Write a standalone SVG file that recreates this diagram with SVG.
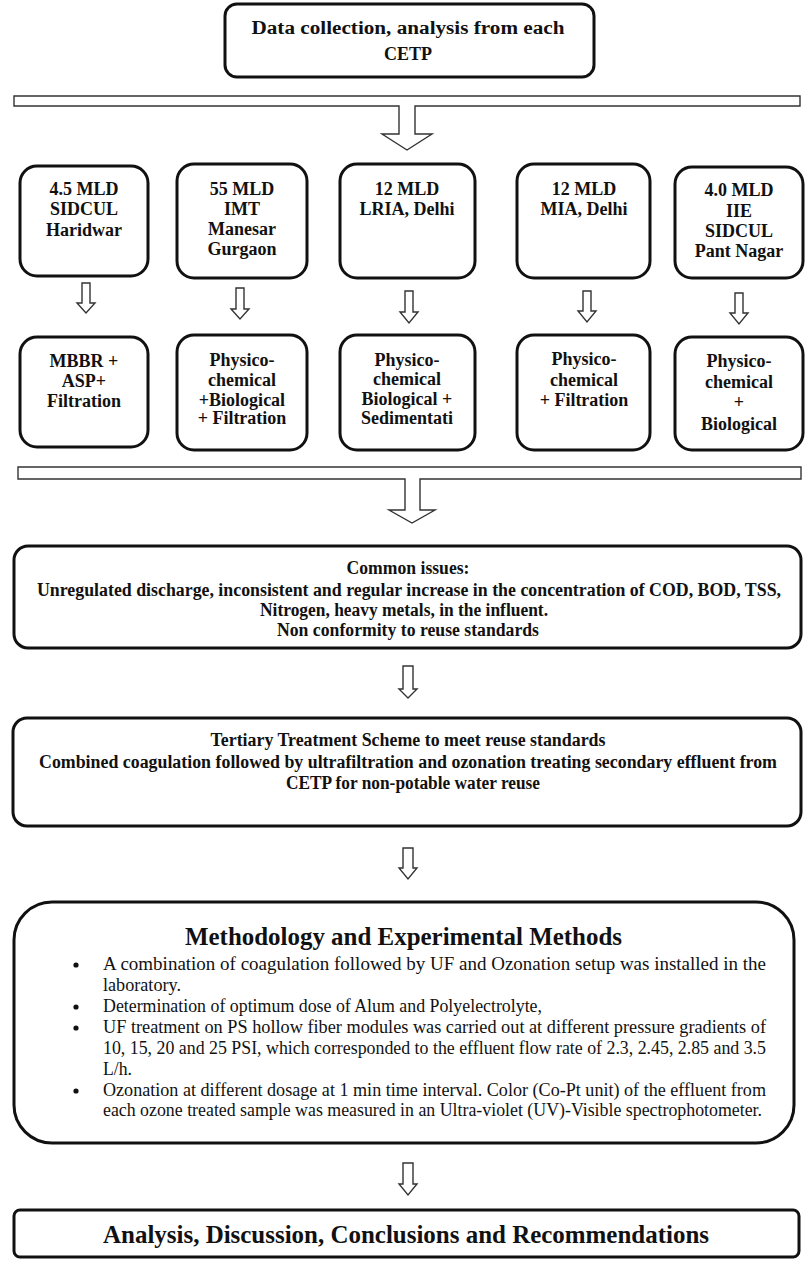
<svg xmlns="http://www.w3.org/2000/svg" width="809" height="1264" viewBox="0 0 809 1264">
<style>
.box{fill:#fff;stroke:#111;stroke-width:3}
.arr{fill:#fff;stroke:#333;stroke-width:1.4;stroke-linejoin:miter}
.t{font-family:"Liberation Serif","Times New Roman",serif;font-weight:bold;font-size:18px;fill:#111;text-anchor:middle}
.h{font-family:"Liberation Serif","Times New Roman",serif;font-weight:bold;font-size:25px;fill:#111}
.b{font-family:"Liberation Serif","Times New Roman",serif;font-size:18px;fill:#111}
</style>
<rect width="809" height="1264" fill="#fff"/>
<g id="connectors">
<path class="arr" d="M14,96 H800 V106 H415 V134 H432 L407,150 L382,134 H399 V106 H14 Z"/>
<path class="arr" d="M18,467 H801 V479 H420 V510 H435 L412,523 L389,510 H405 V479 H18 Z"/>
<path class="arr" d="M82,283 H90 V303 H95 L86,313 L77,303 H82 Z"/>
<path class="arr" d="M236,288 H244 V309 H249 L240,319 L231,309 H236 Z"/>
<path class="arr" d="M405,291 H413 V312 H418 L409,323 L400,312 H405 Z"/>
<path class="arr" d="M583,291 H591 V311 H596 L587,322 L578,311 H583 Z"/>
<path class="arr" d="M735,293 H743 V313 H748 L739,324 L730,313 H735 Z"/>
<path class="arr" d="M403,666 H413 V689 H417 L408,698 L399,689 H403 Z"/>
<path class="arr" d="M403,848 H413 V868 H417 L408,879 L399,868 H403 Z"/>
<path class="arr" d="M403,1163 H413 V1184 H417 L408,1195 L399,1184 H403 Z"/>
</g>
<g id="n-top">
<rect class="box" x="225" y="4" width="369" height="73" rx="12"/>
<text class="t" x="408" y="34" font-size="20" textLength="313" lengthAdjust="spacingAndGlyphs">Data collection, analysis from each</text>
<text class="t" x="408" y="60" font-size="20">CETP</text>
</g>
<g id="n-r1-1">
<rect class="box" x="20" y="166" width="128" height="110" rx="17"/>
<text class="t" x="84" y="195">4.5 MLD</text>
<text class="t" x="84" y="215">SIDCUL</text>
<text class="t" x="84" y="236">Haridwar</text>
</g>
<g id="n-r1-2">
<rect class="box" x="177" y="164" width="130" height="114" rx="17"/>
<text class="t" x="242" y="195">55 MLD</text>
<text class="t" x="242" y="215">IMT</text>
<text class="t" x="242" y="235">Manesar</text>
<text class="t" x="242" y="255">Gurgaon</text>
</g>
<g id="n-r1-3">
<rect class="box" x="340" y="164" width="135" height="114" rx="17"/>
<text class="t" x="407" y="195">12 MLD</text>
<text class="t" x="407" y="215">LRIA, Delhi</text>
</g>
<g id="n-r1-4">
<rect class="box" x="517" y="164" width="133" height="114" rx="17"/>
<text class="t" x="584" y="195">12 MLD</text>
<text class="t" x="584" y="215">MIA, Delhi</text>
</g>
<g id="n-r1-5">
<rect class="box" x="675" y="167" width="128" height="111" rx="17"/>
<text class="t" x="739" y="196">4.0 MLD</text>
<text class="t" x="739" y="217">IIE</text>
<text class="t" x="739" y="237">SIDCUL</text>
<text class="t" x="739" y="257">Pant Nagar</text>
</g>
<g id="n-r2-1">
<rect class="box" x="20" y="337" width="128" height="110" rx="17"/>
<text class="t" x="84" y="367">MBBR +</text>
<text class="t" x="84" y="387">ASP+</text>
<text class="t" x="84" y="407">Filtration</text>
</g>
<g id="n-r2-2">
<rect class="box" x="177" y="335" width="130" height="115" rx="17"/>
<text class="t" x="242" y="366">Physico-</text>
<text class="t" x="242" y="386">chemical</text>
<text class="t" x="242" y="406">+Biological</text>
<text class="t" x="242" y="424">+ Filtration</text>
</g>
<g id="n-r2-3">
<rect class="box" x="340" y="335" width="135" height="115" rx="17"/>
<text class="t" x="407" y="366">Physico-</text>
<text class="t" x="407" y="385">chemical</text>
<text class="t" x="407" y="405">Biological +</text>
<text class="t" x="407" y="424">Sedimentati</text>
</g>
<g id="n-r2-4">
<rect class="box" x="517" y="335" width="133" height="115" rx="17"/>
<text class="t" x="584" y="365">Physico-</text>
<text class="t" x="584" y="386">chemical</text>
<text class="t" x="584" y="406">+ Filtration</text>
</g>
<g id="n-r2-5">
<rect class="box" x="675" y="337" width="128" height="113" rx="17"/>
<text class="t" x="739" y="367">Physico-</text>
<text class="t" x="739" y="388">chemical</text>
<text class="t" x="739" y="408">+</text>
<text class="t" x="739" y="430">Biological</text>
</g>
<g id="n-issues">
<rect class="box" x="14" y="546" width="787" height="102" rx="14"/>
<text class="t" x="408" y="574" textLength="123" lengthAdjust="spacingAndGlyphs">Common issues:</text>
<text class="t" x="409" y="596" textLength="744" lengthAdjust="spacingAndGlyphs">Unregulated discharge, inconsistent and regular increase in the concentration of COD, BOD, TSS,</text>
<text class="t" x="404" y="616" textLength="288" lengthAdjust="spacingAndGlyphs">Nitrogen, heavy metals, in the influent.</text>
<text class="t" x="408" y="636" textLength="262" lengthAdjust="spacingAndGlyphs">Non conformity to reuse standards</text>
</g>
<g id="n-tertiary">
<rect class="box" x="13" y="718" width="788" height="108" rx="14"/>
<text class="t" x="408" y="746" textLength="395" lengthAdjust="spacingAndGlyphs">Tertiary Treatment Scheme to meet reuse standards</text>
<text class="t" x="408" y="768" textLength="738" lengthAdjust="spacingAndGlyphs">Combined coagulation followed by ultrafiltration and ozonation treating secondary effluent from</text>
<text class="t" x="413" y="789" textLength="254" lengthAdjust="spacingAndGlyphs">CETP for non-potable water reuse</text>
</g>
<g id="n-method">
<rect class="box" x="14" y="902" width="780" height="241" rx="38"/>
<text class="h" x="185" y="945" textLength="437" lengthAdjust="spacingAndGlyphs">Methodology and Experimental Methods</text>
<g fill="#111">
<circle cx="76" cy="965" r="2.6"/>
<circle cx="76" cy="1007" r="2.6"/>
<circle cx="76" cy="1028" r="2.6"/>
<circle cx="76" cy="1091" r="2.6"/>
</g>
<text class="b" x="103" y="970" textLength="663" lengthAdjust="spacingAndGlyphs">A combination of coagulation followed by UF and Ozonation setup was installed in the</text>
<text class="b" x="103" y="991" textLength="78" lengthAdjust="spacingAndGlyphs">laboratory.</text>
<text class="b" x="103" y="1012" textLength="439" lengthAdjust="spacingAndGlyphs">Determination of optimum dose of Alum and Polyelectrolyte,</text>
<text class="b" x="103" y="1033" textLength="663" lengthAdjust="spacingAndGlyphs">UF treatment on PS hollow fiber modules was carried out at different pressure gradients of</text>
<text class="b" x="103" y="1054" textLength="663" lengthAdjust="spacingAndGlyphs">10, 15, 20 and 25 PSI, which corresponded to the effluent flow rate of 2.3, 2.45, 2.85 and 3.5</text>
<text class="b" x="103" y="1075" textLength="29" lengthAdjust="spacingAndGlyphs">L/h.</text>
<text class="b" x="103" y="1096" textLength="663" lengthAdjust="spacingAndGlyphs">Ozonation at different dosage at 1 min time interval. Color (Co-Pt unit) of the effluent from</text>
<text class="b" x="103" y="1116" textLength="659" lengthAdjust="spacingAndGlyphs">each ozone treated sample was measured in an Ultra-violet (UV)-Visible spectrophotometer.</text>
</g>
<g id="n-final">
<rect class="box" x="14" y="1210" width="785" height="47" rx="6"/>
<text class="h" x="103" y="1243" textLength="606" lengthAdjust="spacingAndGlyphs">Analysis, Discussion, Conclusions and Recommendations</text>
</g>
</svg>
